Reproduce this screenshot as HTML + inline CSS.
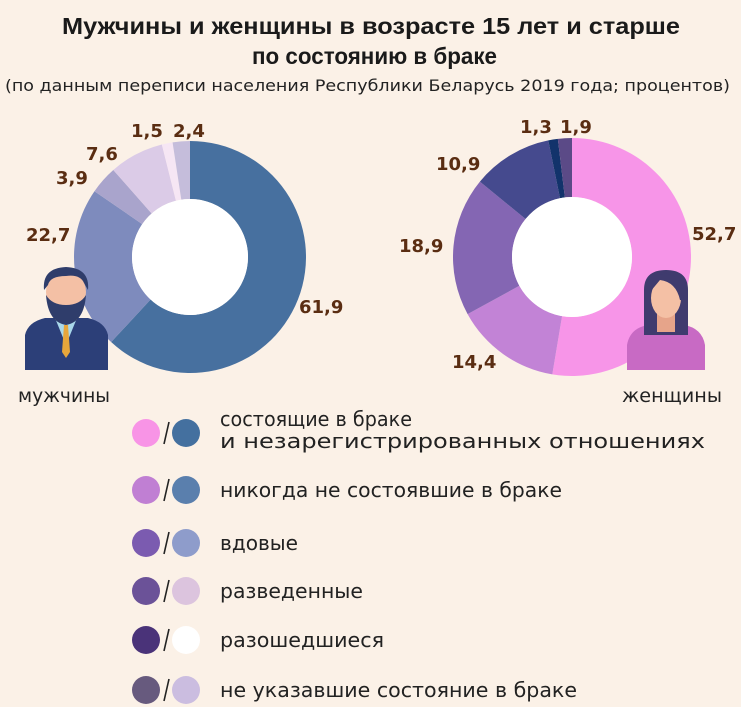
<!DOCTYPE html>
<html><head><meta charset="utf-8"><style>
body{margin:0;width:741px;height:707px;background:#fbf1e7;overflow:hidden;font-family:"DejaVu Sans","Liberation Sans",sans-serif}
</style></head><body>
<svg id="s" width="741" height="707" xmlns="http://www.w3.org/2000/svg" style="position:absolute;left:0;top:0">
<rect width="741" height="707" fill="#fbf1e7"/>
<g font-family="Liberation Sans, sans-serif" font-weight="bold" fill="#1a1a1a" font-size="23">
<text x="62" y="34" textLength="618" lengthAdjust="spacingAndGlyphs">Мужчины и женщины в возрасте 15 лет и старше</text>
<text x="252" y="64" textLength="245" lengthAdjust="spacingAndGlyphs">по состоянию в браке</text>
</g>
<text x="5" y="91" font-size="16" fill="#222" textLength="725" lengthAdjust="spacingAndGlyphs">(по данным переписи населения Республики Беларусь 2019 года; процентов)</text>
<g id="d"></g>
<g font-size="18" font-weight="bold" fill="#5a2d12" font-family="DejaVu Sans, sans-serif">
<text x="173" y="137">2,4</text><text x="131" y="137">1,5</text><text x="86" y="160">7,6</text><text x="56" y="184">3,9</text><text x="26" y="241">22,7</text><text x="299" y="313">61,9</text>
<text x="560" y="133">1,9</text><text x="520" y="133">1,3</text><text x="436" y="170">10,9</text><text x="399" y="252">18,9</text><text x="452" y="368">14,4</text><text x="692" y="240">52,7</text>
</g>
<!-- man -->
<g>
<path d="M25 370 L25 335 Q28 322 45 318 L88 318 Q105 322 108 335 L108 370Z" fill="#2c3f78"/>
<path d="M55 318 L66 345 L77 318Z" fill="#a9d8ea"/>
<path d="M64 325 L68 325 L70 352 L66 358 L62 352Z" fill="#e7a63b"/>
<rect x="55" y="300" width="22" height="20" fill="#f0b59a"/>
<ellipse cx="66" cy="292" rx="20" ry="22" fill="#f4c0a5"/>
<path d="M46 295 Q48 322 66 325 Q84 322 86 295 Q80 305 66 305 Q52 305 46 295Z" fill="#2f3d6b"/>
<path d="M44 290 Q42 268 66 267 Q90 268 88 290 L84 283 Q80 274 66 276 Q50 276 48 285Z" fill="#2f3d6b"/>
</g>
<!-- woman -->
<g>
<path d="M627 370 L627 345 Q630 328 648 325 L684 325 Q702 328 705 345 L705 370Z" fill="#c86ac4"/>
<path d="M644 335 L644 290 Q644 270 666 270 Q688 270 688 290 L688 335Z" fill="#3f3b6e"/>
<rect x="657" y="310" width="18" height="22" fill="#e6a48a"/>
<ellipse cx="666" cy="298" rx="15" ry="20" fill="#f4c0a5"/>
<path d="M650 292 Q652 272 668 274 Q684 276 684 300 L680 300 Q676 282 660 280Z" fill="#3f3b6e"/>
</g>
<text x="18" y="402" font-size="19" fill="#222" textLength="92" lengthAdjust="spacingAndGlyphs">мужчины</text>
<text x="622" y="402" font-size="19" fill="#222" textLength="100" lengthAdjust="spacingAndGlyphs">женщины</text>
<g id="leg" font-size="20" fill="#222"></g>
</svg>
<script>
var NS="http://www.w3.org/2000/svg";
function donut(cx,cy,R,r,vals,cols){
 var g=document.getElementById('d'),a=-Math.PI/2,tot=vals.reduce((x,y)=>x+y,0);
 vals.forEach(function(v,i){
  var b=a+v/tot*2*Math.PI,l=(b-a)>Math.PI?1:0;
  var p=["M",cx+R*Math.cos(a),cy+R*Math.sin(a),"A",R,R,0,l,1,cx+R*Math.cos(b),cy+R*Math.sin(b),
   "L",cx+r*Math.cos(b),cy+r*Math.sin(b),"A",r,r,0,l,0,cx+r*Math.cos(a),cy+r*Math.sin(a),"Z"].join(" ");
  var e=document.createElementNS(NS,"path");e.setAttribute("d",p);e.setAttribute("fill",cols[i]);g.appendChild(e);a=b;});
 var c=document.createElementNS(NS,"circle");c.setAttribute("cx",cx);c.setAttribute("cy",cy);c.setAttribute("r",r);c.setAttribute("fill","#fff");g.appendChild(c);
}
donut(190,257,116,58,[61.9,22.7,3.9,7.6,1.5,2.4],["#47709f","#7e8bbd","#a9a4cc","#dbcbe7","#f6e6f4","#c5bddb"]);
donut(572,257,119,60,[52.7,14.4,18.9,10.9,1.3,1.9],["#f795e8","#c283d6","#8466b3","#454a8e","#12336b","#5b4a87"]);
var L=document.getElementById('leg');
var rows=[[433,"#f894e6","#44709f",["состоящие в браке","и незарегистрированных отношениях"],[192,485]],
[490,"#c07fd3","#5a7fad",["никогда не состоявшие в браке"],[342]],
[543,"#7b5bb0","#8e9ccb",["вдовые"],[78]],
[591,"#6b5298","#dcc4de",["разведенные"],[143]],
[640,"#4a3379","#ffffff",["разошедшиеся"],[164]],
[690,"#675a7e","#cbbde0",["не указавшие состояние в браке"],[357]]];
var h="";
function t(x,y,s,w){return '<text x="'+x+'" y="'+y+'" textLength="'+w+'" lengthAdjust="spacingAndGlyphs">'+s+'</text>';}
rows.forEach(function(r){
 h+='<circle cx="146" cy="'+r[0]+'" r="14" fill="'+r[1]+'"/><circle cx="186" cy="'+r[0]+'" r="14" fill="'+r[2]+'"/>';
 h+='<line x1="164" y1="'+(r[0]+11)+'" x2="169" y2="'+(r[0]-11)+'" stroke="#222" stroke-width="1.6"/>';
 if(r[3].length==2){h+=t(220,r[0]-7,r[3][0],r[4][0])+t(220,r[0]+15,r[3][1],r[4][1]);}
 else h+=t(220,r[0]+7,r[3][0],r[4][0]);
});
L.innerHTML=h;
</script>
</body></html>
